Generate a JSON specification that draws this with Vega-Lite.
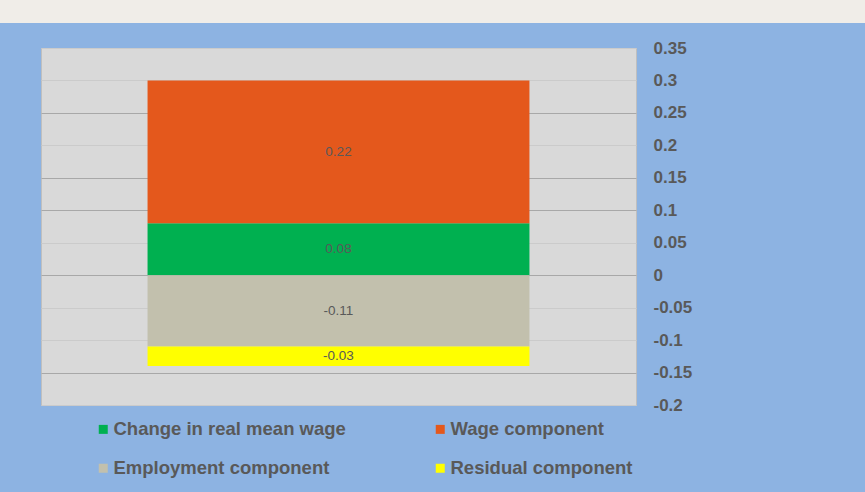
{
  "$schema": "https://vega.github.io/schema/vega-lite/v6.json",
  "background": "#8db3e2",
  "padding": {"left": 0, "top": 0, "right": 0, "bottom": 70},
  "spacing": 15,
  "bounds": "full",
  "config": {"font": "Liberation Sans"},
  "vconcat": [
    {
      "width": 865,
      "height": 23,
      "data": {"values": [{}]},
      "mark": {"type": "rect", "opacity": 0},
      "encoding": {},
      "view": {"fill": "#f0ede8", "stroke": null}
    },
    {
      "spacing": 0,
      "hconcat": [
        {
          "width": 40,
          "height": 357,
          "data": {"values": [{}]},
          "mark": {"type": "rect", "opacity": 0},
          "encoding": {},
          "view": {"fill": null, "stroke": null}
        },
        {
          "width": 595,
          "height": 357,
          "view": {"fill": "#d9d9d9", "stroke": "#bfbfbf"},
          "data": {
            "values": [
              {"cat": "All", "series": "Change in real mean wage", "value": 0.08, "order": 1},
              {"cat": "All", "series": "Wage component", "value": 0.22, "order": 2},
              {"cat": "All", "series": "Employment component", "value": -0.11, "order": 3},
              {"cat": "All", "series": "Residual component", "value": -0.03, "order": 4}
            ]
          },
          "transform": [
            {"stack": "value", "groupby": ["cat"], "sort": [{"field": "order", "order": "ascending"}], "as": ["v0", "v1"]},
            {"calculate": "(datum.v0 + datum.v1) / 2", "as": "mid"}
          ],
          "encoding": {
            "x": {
              "field": "cat",
              "type": "nominal",
              "axis": null,
              "scale": {"paddingInner": 0, "paddingOuter": 0.279}
            }
          },
          "layer": [
            {
              "mark": {"type": "bar"},
              "encoding": {
                "y": {
                  "field": "v0",
                  "type": "quantitative",
                  "scale": {"domain": [-0.2, 0.35], "nice": false, "zero": false},
                  "axis": {
                    "orient": "right",
                    "title": null,
                    "values": [0.35, 0.3, 0.25, 0.2, 0.15, 0.1, 0.05, 0, -0.05, -0.1, -0.15, -0.2],
                    "labelExpr": "'' + datum.value",
                    "ticks": false,
                    "domain": false,
                    "labelPadding": 17,
                    "labelFontSize": 17,
                    "labelFontWeight": "bold",
                    "labelColor": "#595959",
                    "labelOverlap": false,
                    "labelBound": false,
                    "labelFlush": false,
                    "grid": true,
                    "gridWidth": 1,
                    "gridColor": {
                      "condition": {"test": "indexof([0.25, 0.15, 0.1, 0, -0.15], datum.value) >= 0", "value": "#a8a8a8"},
                      "value": "#cbcbcb"
                    }
                  }
                },
                "y2": {"field": "v1"},
                "color": {
                  "field": "series",
                  "type": "nominal",
                  "scale": {
                    "domain": ["Change in real mean wage", "Wage component", "Employment component", "Residual component"],
                    "range": ["#00b050", "#e4581c", "#c2c0ad", "#ffff00"]
                  },
                  "legend": {
                    "orient": "none",
                    "legendX": 94,
                    "legendY": 420,
                    "direction": "horizontal",
                    "columns": 2,
                    "columnPadding": 85,
                    "rowPadding": 20,
                    "padding": 0,
                    "title": null,
                    "symbolType": "square",
                    "symbolSize": 81,
                    "symbolStrokeWidth": 0,
                    "labelFontSize": 18.5,
                    "labelFontWeight": "bold",
                    "labelColor": "#595959",
                    "labelLimit": 400,
                    "labelOffset": 1
                  }
                }
              }
            },
            {
              "mark": {"type": "text", "fontSize": 13.5, "color": "#595959"},
              "encoding": {
                "y": {
                  "field": "mid",
                  "type": "quantitative",
                  "axis": {
                    "orient": "right",
                    "title": null,
                    "values": [0.35, 0.3, 0.25, 0.2, 0.15, 0.1, 0.05, 0, -0.05, -0.1, -0.15, -0.2],
                    "labelExpr": "'' + datum.value",
                    "ticks": false,
                    "domain": false,
                    "labelPadding": 17,
                    "labelFontSize": 17,
                    "labelFontWeight": "bold",
                    "labelColor": "#595959",
                    "labelOverlap": false,
                    "labelBound": false,
                    "labelFlush": false,
                    "grid": true,
                    "gridWidth": 1,
                    "gridColor": {
                      "condition": {"test": "indexof([0.25, 0.15, 0.1, 0, -0.15], datum.value) >= 0", "value": "#a8a8a8"},
                      "value": "#cbcbcb"
                    }
                  }
                },
                "text": {"field": "value", "type": "nominal"}
              }
            }
          ]
        }
      ]
    }
  ]
}
